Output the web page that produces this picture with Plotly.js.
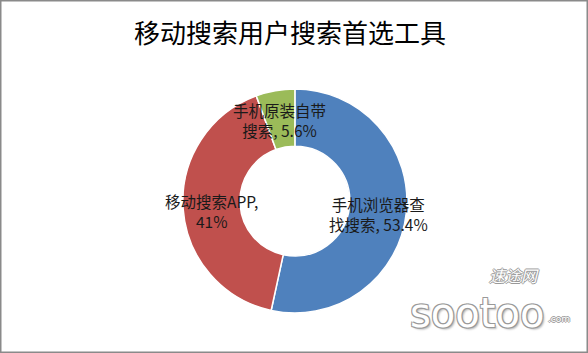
<!DOCTYPE html>
<html><head><meta charset="utf-8">
<script src="https://cdn.plot.ly/plotly-3.0.1.min.js"></script>
<style>html,body{margin:0;padding:0;background:#fff;}</style>
</head><body>
<div id="chart" style="width:588px;height:353px;"></div>
<script>
const chartTitle = "移动搜索用户搜索首选工具";
const categories = ["手机浏览器查找搜索", "移动搜索APP", "手机原装自带搜索"];
const values = [53.4, 41, 5.6];
const labelLines = [["手机浏览器查", "找搜索, 53.4%"], ["移动搜索APP,", "41%"], ["手机原装自带", "搜索, 5.6%"]];
const colors = ["#4F81BD", "#C0504D", "#9BBB59"];
const labelPos = [[0.643, 0.394], [0.359, 0.402], [0.476, 0.660]];

const cjk = "'Noto Sans CJK SC', 'Microsoft YaHei', sans-serif";

const trace = {
  type: "pie",
  labels: categories,
  values: values,
  sort: false,
  direction: "clockwise",
  rotation: 0,
  hole: 0.49,
  textinfo: "none",
  marker: {colors: colors, line: {color: "#ffffff", width: 1.5}},
  domain: {x: [0.311, 0.692], y: [0.113, 0.748]},
  showlegend: false,
  hoverinfo: "label+percent"
};

const annotations = labelLines.map((lines, i) => ({
  xref: "paper", yref: "paper",
  x: labelPos[i][0], y: labelPos[i][1],
  xanchor: "center", yanchor: "middle",
  text: lines.join("<br>"),
  showarrow: false,
  align: "center",
  font: {family: cjk, size: 15.5, color: "#1a1a1a"}
}));

annotations.push({
  xref: "paper", yref: "paper", x: 0.874, y: 0.222,
  xanchor: "center", yanchor: "middle", showarrow: false,
  text: "速途网",
  font: {family: cjk, size: 16, color: "#ffffff", style: "italic", shadow: "1px 0 0 #999, -1px 0 0 #999, 0 1px 0 #999, 0 -1px 0 #999"}
});
annotations.push({
  xref: "paper", yref: "paper", x: 0.812, y: 0.112,
  xanchor: "center", yanchor: "middle", showarrow: false,
  text: "sootoo",
  font: {family: "'DejaVu Sans', sans-serif", size: 40, color: "#ffffff", shadow: "1px 1px 0 #999, -1px -1px 0 #999, 1px -1px 0 #999, -1px 1px 0 #999, 2px 2px 2px #bbb"}
});
annotations.push({
  xref: "paper", yref: "paper", x: 0.951, y: 0.096,
  xanchor: "center", yanchor: "middle", showarrow: false,
  text: ".com",
  font: {family: "'DejaVu Sans', sans-serif", size: 9, color: "#ffffff", shadow: "1px 0 0 #999, -1px 0 0 #999, 0 1px 0 #999, 0 -1px 0 #999"}
});

const layout = {
  width: 588, height: 353,
  margin: {l: 0, r: 0, t: 0, b: 0},
  paper_bgcolor: "#ffffff",
  title: {text: chartTitle, x: 0.493, xanchor: "center", y: 0.905, yanchor: "middle",
          font: {family: cjk, size: 26, color: "#000000"}},
  annotations: annotations,
  shapes: [{type: "rect", xref: "paper", yref: "paper", x0: 0, y0: 0, x1: 1, y1: 1,
            line: {color: "#8a8a8a", width: 3}}]
};

Plotly.newPlot("chart", [trace], layout, {displayModeBar: false, staticPlot: true});
</script>
</body></html>
